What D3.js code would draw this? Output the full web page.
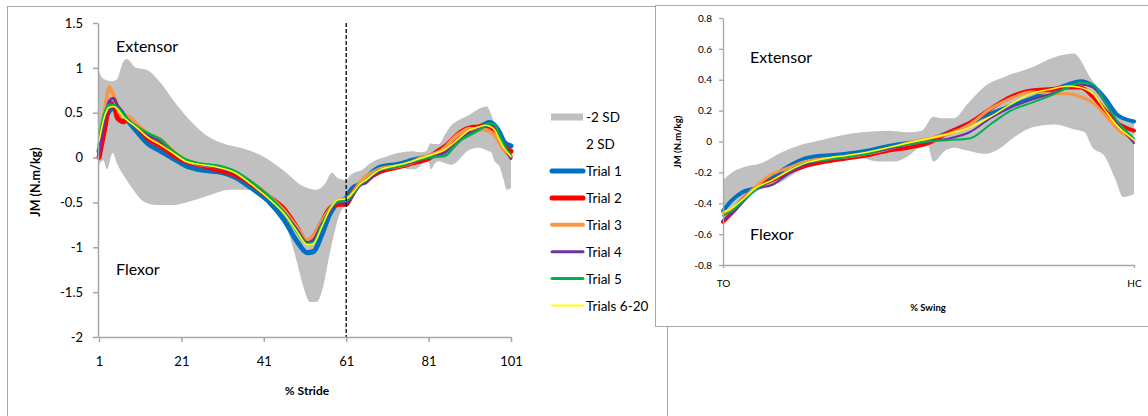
<!DOCTYPE html>
<html><head><meta charset="utf-8">
<script src="https://cdn.jsdelivr.net/npm/d3@7"></script>
<style>
body{margin:0;background:#fff;}
svg{display:block;font-family:Lato,"Open Sans",sans-serif;}
</style>
</head><body>
<svg id="c" width="1148" height="416"></svg>
<script>
// ---------------- DATA ----------------
const seriesNames = ["Trial 1","Trial 2","Trial 3","Trial 4","Trial 5","Trials 6-20"];
const strideTicks = [1,21,41,61,81,101];
const strideYTicks = [-2,-1.5,-1,-0.5,0,0.5,1,1.5];
const swingYTicks = [-0.8,-0.6,-0.4,-0.2,0,0.2,0.4,0.6,0.8];
const swingTickValues = [0,100];
const swingTickLabels = ["TO","HC"];

// stance phase (% stride 1-59)
const stanceX = [1,2.5,3.5,4.5,5.5,7,8,10,13,16,19,22,26,30,34,38,42,46,49,51.5,53,55,57,59];
const trial1Stance = [0.07,0.42,0.52,0.55,0.55,0.47,0.41,0.30,0.15,0.07,-0.01,-0.09,-0.14,-0.16,-0.22,-0.34,-0.48,-0.70,-0.93,-1.06,-1.05,-0.87,-0.63,-0.50];
const trial2Stance = [0.00,0.35,0.60,0.60,0.44,0.40,0.44,0.36,0.21,0.13,0.03,-0.04,-0.09,-0.14,-0.19,-0.29,-0.43,-0.58,-0.78,-0.94,-0.89,-0.73,-0.57,-0.52];
const trial3Stance = [0.12,0.55,0.78,0.70,0.55,0.46,0.46,0.38,0.26,0.20,0.07,-0.03,-0.08,-0.10,-0.16,-0.28,-0.42,-0.60,-0.78,-0.92,-0.88,-0.72,-0.58,-0.48];
const trial4Stance = [0.05,0.45,0.63,0.66,0.58,0.48,0.42,0.35,0.25,0.18,0.06,-0.03,-0.08,-0.11,-0.17,-0.29,-0.43,-0.62,-0.80,-0.95,-0.92,-0.75,-0.60,-0.50];
const trial5Stance = [0.22,0.52,0.59,0.59,0.56,0.48,0.42,0.35,0.27,0.20,0.07,-0.02,-0.07,-0.09,-0.15,-0.27,-0.42,-0.62,-0.82,-0.96,-0.95,-0.76,-0.58,-0.49];
const trials620Stance = [0.18,0.48,0.56,0.57,0.54,0.45,0.41,0.34,0.22,0.14,0.05,-0.04,-0.08,-0.11,-0.17,-0.30,-0.45,-0.63,-0.82,-0.97,-0.96,-0.78,-0.58,-0.47];

// swing phase (% swing 0-100)
const swingX = [0,2.2,4.6,8,12,16,20,25,30,35,40,45,50,55,60,65,70,75,80,84,87,90,93,96,100];
const trial1Swing = [-0.45,-0.38,-0.33,-0.30,-0.23,-0.16,-0.11,-0.09,-0.08,-0.06,-0.03,-0.01,0.01,0.06,0.12,0.18,0.23,0.28,0.33,0.37,0.39,0.36,0.28,0.17,0.13];
const trial2Swing = [-0.52,-0.46,-0.38,-0.30,-0.25,-0.20,-0.16,-0.13,-0.11,-0.09,-0.06,-0.04,-0.01,0.06,0.12,0.21,0.29,0.33,0.34,0.35,0.35,0.29,0.20,0.12,0.07];
const trial3Swing = [-0.46,-0.44,-0.38,-0.29,-0.21,-0.17,-0.13,-0.11,-0.10,-0.08,-0.05,-0.01,0.02,0.05,0.11,0.21,0.28,0.32,0.31,0.31,0.29,0.25,0.17,0.08,0.01];
const trial4Swing = [-0.51,-0.47,-0.40,-0.31,-0.28,-0.21,-0.15,-0.12,-0.10,-0.08,-0.05,-0.02,0.00,0.02,0.06,0.15,0.22,0.27,0.31,0.35,0.37,0.35,0.25,0.12,-0.01];
const trial5Swing = [-0.48,-0.45,-0.39,-0.31,-0.25,-0.19,-0.14,-0.12,-0.10,-0.08,-0.04,-0.02,0.00,0.01,0.02,0.11,0.20,0.25,0.30,0.35,0.38,0.37,0.25,0.13,0.02];
const trials620Swing = [-0.46,-0.43,-0.38,-0.30,-0.25,-0.19,-0.14,-0.11,-0.09,-0.07,-0.04,-0.01,0.02,0.05,0.09,0.16,0.24,0.31,0.34,0.36,0.35,0.31,0.20,0.10,0.01];

// +/-2 SD band
const bandUpperStanceX = [1,2,4,5.3,6.9,7.7,10,12.5,16,19,23,27,31,36,41,45.7,50.6,53.8,55.9,57.5,59];
const bandUpperStance = [0.96,0.88,0.85,0.87,1.07,1.10,1.00,0.98,0.83,0.64,0.42,0.25,0.16,0.10,0.01,-0.14,-0.32,-0.36,-0.29,-0.17,-0.23];
const bandLowerStanceX = [1,2,3,4.3,5.5,7,9.3,11.8,15,19,23,27.9,32.7,37.6,41.6,44.8,47.3,48.9,50.6,52.2,53.8,55.4,56.7,57.9,59.5];
const bandLowerStance = [-0.08,-0.03,-0.13,0.05,-0.08,-0.20,-0.36,-0.49,-0.53,-0.53,-0.49,-0.42,-0.36,-0.36,-0.44,-0.62,-0.88,-1.14,-1.44,-1.61,-1.61,-1.44,-1.14,-0.88,-0.62];
const bandUpperSwingX = [0,2.2,4.6,9.4,14.3,19.2,24,28.9,33.8,40.3,45.1,48.4,51.2,53.2,56.1,59.7,63.8,68.6,75.1,80,85.3,89.7,93,97,100];
const bandUpperSwing = [-0.25,-0.20,-0.17,-0.14,-0.07,-0.02,0.01,0.04,0.06,0.07,0.06,0.07,0.16,0.15,0.15,0.25,0.36,0.42,0.48,0.54,0.57,0.40,0.29,0.17,0.13];
const bandLowerSwingX = [0,2.2,4.6,8.4,11.8,14.3,19.2,24,28.9,33.8,37.6,41.5,44.7,48,49.6,51.2,54,56.1,59.7,63.8,67,71,75.1,80.8,85.3,88,89.7,93,95.4,97.4,100];
const bandLowerSwing = [-0.53,-0.48,-0.41,-0.32,-0.29,-0.26,-0.18,-0.14,-0.11,-0.11,-0.13,-0.13,-0.10,-0.03,-0.01,-0.13,-0.06,-0.04,-0.06,-0.08,-0.05,0.03,0.09,0.11,0.08,0.06,-0.03,-0.10,-0.24,-0.36,-0.34];

// ---------------- STYLE ----------------
const colors = ["#0070C0","#FF0000","#F79646","#7030A0","#00B050","#FFFF00"];
const widthsLeft = [5,5,4,3,2.5,1.6];
const widthsRight = [4,4,3,2,2,1.5];
const widthsLegend = [5,5,4,3,3,2];
const bandColor = "#C0C0C0";
const axisColor = "#a6a6a6";
const frameColor = "#a8a8a8";

const stanceSeries = [trial1Stance,trial2Stance,trial3Stance,trial4Stance,trial5Stance,trials620Stance];
const swingSeries = [trial1Swing,trial2Swing,trial3Swing,trial4Swing,trial5Swing,trials620Swing];
const swingToStride = s => 61 + s*0.4;
const zip = (xs, ys) => xs.map((x,i)=>[x, ys[i]]);

const svg = d3.select("#c");

// partially visible caption above (cut off by the page edge as in the reference)
svg.append("text").attr("x",-6).attr("y",-3).attr("font-size",16).attr("font-weight","bold")
  .text("b) Hip physiological joint moment during walking");

// ---------- LEFT CHART ----------
svg.append("rect").attr("x",7.5).attr("y",6.5).attr("width",660).attr("height",420)
  .attr("fill","#fff").attr("stroke",frameColor);

const xL = d3.scaleLinear().domain([1,101]).range([99,511]);
const yL = d3.scaleLinear().domain([-2,1.5]).range([337,23]);
const gL = svg.append("g");

function bandPath(line, upper, lower){
  const up = line(upper);
  const lo = line(lower.slice().reverse());
  return up + "L" + lo.slice(1) + "Z";
}

const lineL = d3.line().x(d=>xL(d[0])).y(d=>yL(d[1])).curve(d3.curveMonotoneX);
const upperL = zip(bandUpperStanceX,bandUpperStance).concat(zip(bandUpperSwingX.map(swingToStride),bandUpperSwing));
const lowerL = zip(bandLowerStanceX,bandLowerStance).concat(zip(bandLowerSwingX.map(swingToStride),bandLowerSwing));
gL.append("path").attr("d",bandPath(lineL,upperL,lowerL)).attr("fill",bandColor);

stanceSeries.forEach((s,i)=>{
  const pts = zip(stanceX,s).concat(zip(swingX.map(swingToStride),swingSeries[i]));
  gL.append("path").attr("d",lineL(pts)).attr("fill","none")
    .attr("stroke",colors[i]).attr("stroke-width",widthsLeft[i]).attr("stroke-linejoin","round").attr("stroke-linecap","round");
});

// dashed toe-off line
gL.append("line").attr("x1",xL(61)).attr("x2",xL(61)).attr("y1",yL(1.5)).attr("y2",yL(-2))
  .attr("stroke","#000").attr("stroke-width",1.3).attr("stroke-dasharray","4,2");

const axYL = gL.append("g").attr("transform",`translate(${xL(1)-1},0)`)
  .call(d3.axisLeft(yL).tickValues(strideYTicks).tickSize(5).tickSizeOuter(0).tickPadding(10).tickFormat(d=>String(d)));
const axXL = gL.append("g").attr("transform",`translate(0,${yL(-2)})`)
  .call(d3.axisBottom(xL).tickValues(strideTicks).tickSize(5).tickSizeOuter(0).tickPadding(15).tickFormat(d=>String(d)));
[axYL,axXL].forEach(a=>{
  a.selectAll("path,line").attr("stroke",axisColor).attr("stroke-width",1.5);
  a.selectAll("text").attr("font-size",13).attr("fill","#000").attr("font-family","Lato");
});

gL.append("text").attr("transform","translate(40,182) rotate(-90)").attr("text-anchor","middle")
  .attr("font-size",12.5).attr("font-weight","bold").text("JM (N.m/kg)");
gL.append("text").attr("x",307).attr("y",395).attr("text-anchor","middle")
  .attr("font-size",12).attr("font-weight","bold").text("% Stride");
gL.append("text").attr("x",116).attr("y",52).attr("font-size",16).text("Extensor");
gL.append("text").attr("x",116).attr("y",275).attr("font-size",16).text("Flexor");

// legend
const lg = gL.append("g").attr("font-size",13.5);
lg.append("rect").attr("x",551).attr("y",113.5).attr("width",32).attr("height",7).attr("fill",bandColor);
lg.append("text").attr("x",586).attr("y",122).text("-2 SD");
lg.append("text").attr("x",586).attr("y",149).text("2 SD");
seriesNames.forEach((n,i)=>{
  const yy = 171 + i*26.9;
  lg.append("line").attr("x1",552).attr("x2",583).attr("y1",yy).attr("y2",yy)
    .attr("stroke",colors[i]).attr("stroke-width",widthsLegend[i]).attr("stroke-linecap","round");
  lg.append("text").attr("x",586).attr("y",yy+5).text(n);
});

// ---------- RIGHT CHART ----------
svg.append("rect").attr("x",655.5).attr("y",5.5).attr("width",500).attr("height",321)
  .attr("fill","#fff").attr("stroke",frameColor);

const xR = d3.scaleLinear().domain([0,100]).range([723,1134]);
const yR = d3.scaleLinear().domain([-0.8,0.8]).range([265,18]);
const gR = svg.append("g");
const lineR = d3.line().x(d=>xR(d[0])).y(d=>yR(d[1])).curve(d3.curveMonotoneX);

gR.append("path").attr("d",bandPath(lineR,zip(bandUpperSwingX,bandUpperSwing),zip(bandLowerSwingX,bandLowerSwing)))
  .attr("fill",bandColor);
swingSeries.forEach((s,i)=>{
  gR.append("path").attr("d",lineR(zip(swingX,s))).attr("fill","none")
    .attr("stroke",colors[i]).attr("stroke-width",widthsRight[i]).attr("stroke-linejoin","round").attr("stroke-linecap","round");
});

const axYR = gR.append("g").attr("transform",`translate(${xR(0)},0)`)
  .call(d3.axisLeft(yR).tickValues(swingYTicks).tickSize(4).tickSizeOuter(0).tickPadding(7)
    .tickFormat(d=>Math.abs(d)<1e-9?"0":d.toFixed(1)));
const axXR = gR.append("g").attr("transform",`translate(0,${yR(-0.8)})`)
  .call(d3.axisBottom(xR).tickValues(swingTickValues).tickSize(3).tickSizeOuter(0).tickPadding(12)
    .tickFormat((d,i)=>swingTickLabels[i]));
[axYR,axXR].forEach(a=>{
  a.selectAll("path,line").attr("stroke",axisColor).attr("stroke-width",1.3);
  a.selectAll("text").attr("font-size",10).attr("fill","#000").attr("font-family","Lato");
});

gR.append("text").attr("transform","translate(681,142) rotate(-90)").attr("text-anchor","middle")
  .attr("font-size",9.5).attr("font-weight","bold").text("JM (N.m/kg)");
gR.append("text").attr("x",928).attr("y",311).attr("text-anchor","middle")
  .attr("font-size",9.5).attr("font-weight","bold").text("% Swing");
gR.append("text").attr("x",750).attr("y",63).attr("font-size",16).text("Extensor");
gR.append("text").attr("x",750).attr("y",240).attr("font-size",16).text("Flexor");
</script>
</body></html>
